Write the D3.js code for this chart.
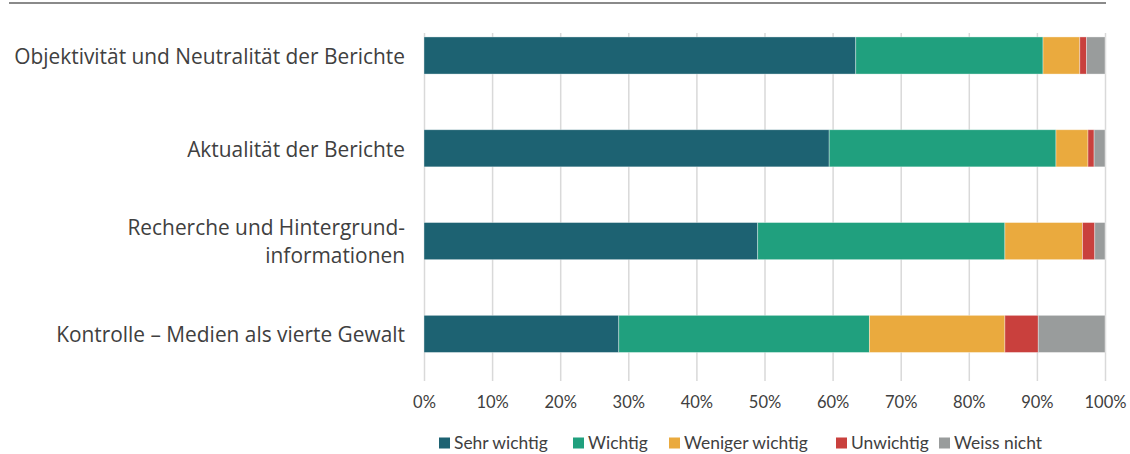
<!DOCTYPE html>
<html>
<head>
<meta charset="utf-8">
<script src="https://cdn.jsdelivr.net/npm/d3@7"></script>
<style>
  html, body { margin: 0; padding: 0; background: #fff; }
  svg { display: block; font-family: "Open Sans", Lato, sans-serif; }
</style>
</head>
<body>
<svg id="chart" width="1130" height="454"></svg>
<script>
// Survey items (each label line listed separately)
const categories = [
  ["Objektivität und Neutralität der Berichte"],
  ["Aktualität der Berichte"],
  ["Recherche und Hintergrund-", "informationen"],
  ["Kontrolle – Medien als vierte Gewalt"]
];
const seriesNames = ["Sehr wichtig", "Wichtig", "Weniger wichtig", "Unwichtig", "Weiss nicht"];
const seriesColors = ["#1d6272", "#20a07e", "#eaaa3e", "#c9403d", "#999c9c"];

// Shares in percent, one array per answer, in category order
const sehrWichtig    = [63.4, 59.5, 49.0, 28.6];
const wichtig        = [27.5, 33.3, 36.3, 36.8];
const wenigerWichtig = [5.4, 4.7, 11.4, 19.9];
const unwichtig      = [1.0, 0.9, 1.8, 4.9];
const weissNicht     = [2.7, 1.6, 1.5, 9.8];

const tickValues = [0, 10, 20, 30, 40, 50, 60, 70, 80, 90, 100];
const tickLabels = ["0%", "10%", "20%", "30%", "40%", "50%", "60%", "70%", "80%", "90%", "100%"];

const seriesValues = [sehrWichtig, wichtig, wenigerWichtig, unwichtig, weissNicht];
const keys = categories.map(c => c.join(" "));

const rows = keys.map((k, i) => {
  const r = { key: k };
  seriesNames.forEach((s, j) => { r[s] = seriesValues[j][i]; });
  return r;
});

const svg = d3.select("#chart");
const textColor = "#404040";
const labelFont = "Lato, 'Open Sans', sans-serif";

const x = d3.scaleLinear().domain([0, 100]).range([424, 1105]);
const y = d3.scaleBand().domain(keys).range([9.1, 380.3]).paddingInner(0.6).paddingOuter(0.3);

const gridTop = 33, gridBottom = 381;

// Scale a font size so a sample string spans a given width
function fitSize(sample, family, target, base) {
  const t = svg.append("text").style("font-family", family).style("font-size", base + "px").text(sample);
  const w = t.node().getComputedTextLength();
  t.remove();
  return w > 0 ? base * target / w : base;
}

// Rule above the chart
svg.append("line")
  .attr("x1", 9).attr("x2", 1106)
  .attr("y1", 3).attr("y2", 3)
  .attr("stroke", "#8a8a8a").attr("stroke-width", 2);

// Vertical gridlines and percent labels
const tickSize = fitSize("100%", labelFont, 42, 16);
const axis = d3.axisBottom(x)
  .tickValues(tickValues)
  .tickFormat((d, i) => tickLabels[i])
  .tickSize(-(gridBottom - gridTop))
  .tickPadding(15);

const gAxis = svg.append("g")
  .attr("transform", `translate(0,${gridBottom})`)
  .call(axis);
gAxis.select(".domain").remove();
gAxis.selectAll(".tick line").attr("stroke", "#d9d9d9").attr("stroke-width", 1.5);
gAxis.selectAll(".tick text")
  .attr("fill", textColor)
  .style("font-size", tickSize + "px")
  .style("font-family", labelFont);

// Stacked bars
const stack = d3.stack().keys(seriesNames);
const stacked = stack(rows);

svg.append("g").selectAll("g")
  .data(stacked)
  .join("g")
  .attr("fill", (d, i) => seriesColors[i])
  .selectAll("rect")
  .data(d => d)
  .join("rect")
  .attr("x", d => x(d[0]))
  .attr("width", d => x(d[1]) - x(d[0]))
  .attr("y", d => y(d.data.key))
  .attr("height", y.bandwidth())
  .attr("stroke", "rgba(255,255,255,0.45)")
  .attr("stroke-width", 0.8);

// Category labels, right aligned
const catFont = "'Open Sans', Lato, sans-serif";
const catSize = fitSize(categories[0][0], catFont, 391, 19);
const labelG = svg.append("g");
categories.forEach((lines, i) => {
  const cy = y(keys[i]) + y.bandwidth() / 2 + 1;
  const lh = 28;
  const t = labelG.append("text")
    .attr("x", 405)
    .attr("text-anchor", "end")
    .attr("fill", textColor)
    .style("font-family", catFont)
    .style("font-size", catSize + "px");
  lines.forEach((ln, j) => {
    t.append("tspan")
      .attr("x", 405)
      .attr("y", cy + (j - (lines.length - 1) / 2) * lh)
      .attr("dy", "0.35em")
      .text(ln);
  });
});

// Legend
const legendSize = fitSize("Sehr wichtig", labelFont, 94, 16);
const legendX = [439, 573, 669, 836, 939];
const legendY = 443;
const lg = svg.append("g");
seriesNames.forEach((s, i) => {
  lg.append("rect")
    .attr("x", legendX[i]).attr("y", legendY - 5.5)
    .attr("width", 11).attr("height", 11)
    .attr("fill", seriesColors[i]);
  lg.append("text")
    .attr("x", legendX[i] + 15).attr("y", legendY)
    .attr("dy", "0.35em")
    .attr("fill", textColor)
    .style("font-family", labelFont)
    .style("font-size", legendSize + "px")
    .text(s);
});
</script>
</body>
</html>
